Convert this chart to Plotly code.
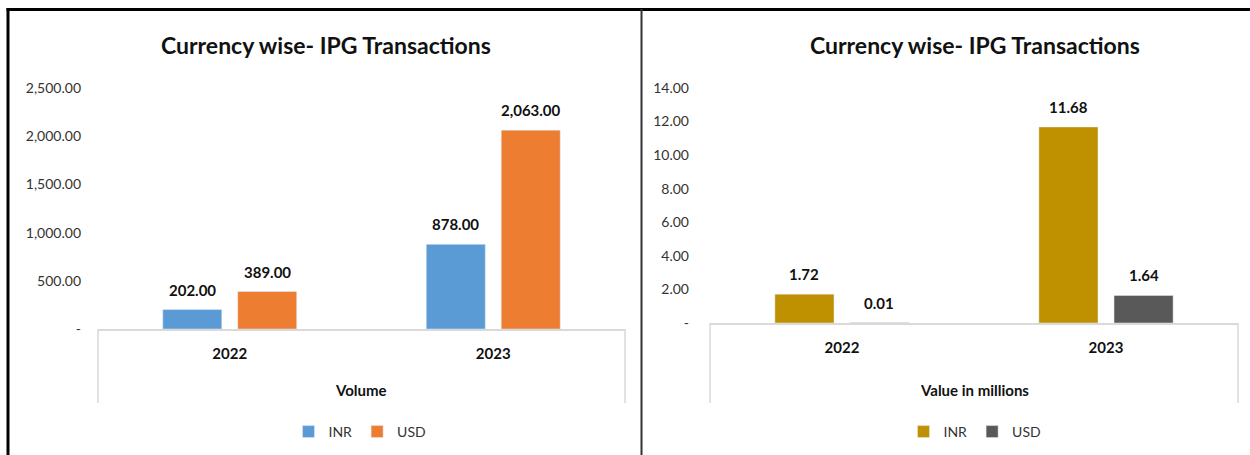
import plotly.graph_objects as go

categories = ["2022", "2023"]
volume_inr = [202.00, 878.00]
volume_usd = [389.00, 2063.00]
value_inr = [1.72, 11.68]
value_usd = [0.01, 1.64]

vol_ticks = [0, 500, 1000, 1500, 2000, 2500]
vol_ticklabels = ["-", "500.00", "1,000.00", "1,500.00", "2,000.00", "2,500.00"]
val_ticks = [0, 2, 4, 6, 8, 10, 12, 14]
val_ticklabels = ["-", "2.00", "4.00", "6.00", "8.00", "10.00", "12.00", "14.00"]

W, H = 1250, 455
FONT = "Lato, Liberation Sans, Arial, sans-serif"

def px(x):
    return x / W

def py(y):
    return 1 - y / H

fig = go.Figure()
fig.add_bar(x=categories, y=volume_inr, name="INR", marker_color="#5B9BD5",
            xaxis="x", yaxis="y", legend="legend")
fig.add_bar(x=categories, y=volume_usd, name="USD", marker_color="#ED7D31",
            xaxis="x", yaxis="y", legend="legend")
fig.add_bar(x=categories, y=value_inr, name="INR", marker_color="#BF9000",
            xaxis="x2", yaxis="y2", legend="legend2")
fig.add_bar(x=categories, y=value_usd, name="USD", marker_color="#595959",
            xaxis="x2", yaxis="y2", legend="legend2")

annotations = []
for xr, yr, series in [("x", "y", (volume_inr, volume_usd)),
                       ("x2", "y2", (value_inr, value_usd))]:
    for k, vals in enumerate(series):
        for i, v in enumerate(vals):
            annotations.append(dict(x=i, y=v, xref=xr, yref=yr, text="<b>" + "{:,.2f}".format(v) + "</b>",
                                    showarrow=False, xshift=-37.5 if k == 0 else 37.5, yshift=20,
                                    font=dict(size=15, color="#111", family=FONT)))

annotations += [
    dict(x=px(326), y=py(45), xref="paper", yref="paper", text="<b>Currency wise- IPG Transactions</b>",
         showarrow=False, xanchor="center", yanchor="middle", font=dict(size=23, color="#111", family=FONT)),
    dict(x=px(975), y=py(45), xref="paper", yref="paper", text="<b>Currency wise- IPG Transactions</b>",
         showarrow=False, xanchor="center", yanchor="middle", font=dict(size=23, color="#111", family=FONT)),
    dict(x=px(361), y=py(390), xref="paper", yref="paper", text="<b>Volume</b>",
         showarrow=False, xanchor="center", yanchor="middle", font=dict(size=15, color="#111", family=FONT)),
    dict(x=px(974), y=py(390), xref="paper", yref="paper", text="<b>Value in millions</b>",
         showarrow=False, xanchor="center", yanchor="middle", font=dict(size=15, color="#111", family=FONT)),
]

grey = "#D9D9D9"
shapes = [
    dict(type="line", xref="paper", yref="paper", x0=px(6.5), x1=px(1250), y0=py(9.5), y1=py(9.5),
         line=dict(color="#000", width=3)),
    dict(type="line", xref="paper", yref="paper", x0=px(8), x1=px(8), y0=py(8), y1=py(455),
         line=dict(color="#000", width=3)),
    dict(type="line", xref="paper", yref="paper", x0=px(641.5), x1=px(641.5), y0=py(9), y1=py(455),
         line=dict(color="#333", width=2)),
    dict(type="line", xref="paper", yref="paper", x0=px(98), x1=px(98), y0=py(329), y1=py(403),
         line=dict(color=grey, width=1.5)),
    dict(type="line", xref="paper", yref="paper", x0=px(625), x1=px(625), y0=py(329), y1=py(403),
         line=dict(color=grey, width=1.5)),
    dict(type="line", xref="paper", yref="paper", x0=px(710), x1=px(710), y0=py(323), y1=py(403),
         line=dict(color=grey, width=1.5)),
    dict(type="line", xref="paper", yref="paper", x0=px(1238), x1=px(1238), y0=py(323), y1=py(403),
         line=dict(color=grey, width=1.5)),
]

xcommon = dict(type="category", range=[-0.5, 1.5], autorange=False,
               showline=True, linecolor=grey, linewidth=1.5, showgrid=False, zeroline=False,
               ticks="outside", ticklen=10, tickcolor="rgba(0,0,0,0)", automargin=False,
               tickfont=dict(size=15, color="#111", family=FONT), fixedrange=True,
               tickprefix="<b>", ticksuffix="</b>")
ycommon = dict(showgrid=False, zeroline=False, showline=False, automargin=False, autorange=False,
               tickfont=dict(size=14, color="#333", family=FONT), ticks="", fixedrange=True)

fig.update_layout(
    width=W, height=H, margin=dict(l=0, r=0, t=0, b=0, autoexpand=False),
    paper_bgcolor="white", plot_bgcolor="white",
    barmode="group", bargap=0.431, bargroupgap=0.213,
    showlegend=True,
    xaxis=dict(xcommon, domain=[px(98), px(625)], anchor="y"),
    yaxis=dict(ycommon, domain=[py(329), py(88)], range=[0, 2500], anchor="x",
               tickvals=vol_ticks, ticktext=vol_ticklabels, ticklabelstandoff=16),
    xaxis2=dict(xcommon, domain=[px(710), px(1238)], anchor="y2"),
    yaxis2=dict(ycommon, domain=[py(323), py(88)], range=[0, 14], anchor="x2",
                tickvals=val_ticks, ticktext=val_ticklabels, ticklabelstandoff=20),
    legend=dict(orientation="h", x=px(360), y=py(432), xanchor="center", yanchor="middle",
                font=dict(size=14, color="#333", family=FONT), itemwidth=30, traceorder="normal"),
    legend2=dict(orientation="h", x=px(975), y=py(432), xanchor="center", yanchor="middle",
                 font=dict(size=14, color="#333", family=FONT), itemwidth=30, traceorder="normal"),
    annotations=annotations, shapes=shapes,
)

fig.write_html("out.html", config={"displayModeBar": False},
               post_script="document.body.style.margin='0px';")
